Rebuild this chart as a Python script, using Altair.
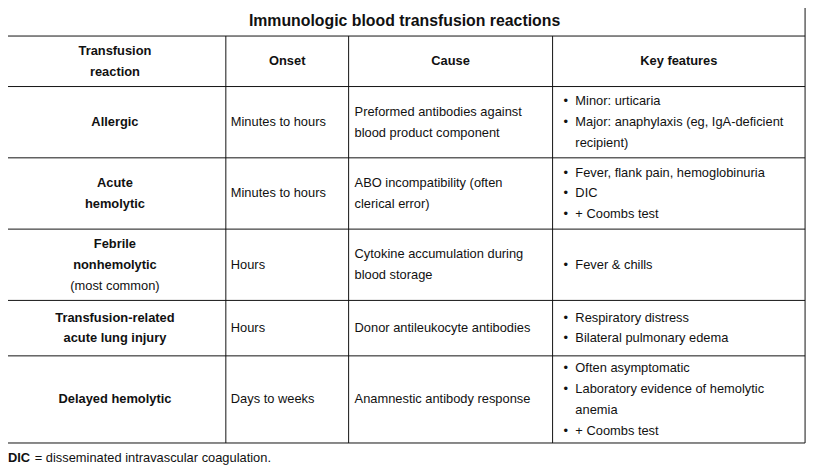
import pandas as pd
import altair as alt

title = "Immunologic blood transfusion reactions"
headers = [["Transfusion", "reaction"], ["Onset"], ["Cause"], ["Key features"]]
reactions = [["Allergic"], ["Acute", "hemolytic"], ["Febrile", "nonhemolytic", "(most common)"],
             ["Transfusion-related", "acute lung injury"], ["Delayed hemolytic"]]
onsets = ["Minutes to hours", "Minutes to hours", "Hours", "Hours", "Days to weeks"]
causes = [["Preformed antibodies against", "blood product component"],
          ["ABO incompatibility (often", "clerical error)"],
          ["Cytokine accumulation during", "blood storage"],
          ["Donor antileukocyte antibodies"],
          ["Anamnestic antibody response"]]
features = [[["Minor: urticaria"], ["Major: anaphylaxis (eg, IgA-deficient", "recipient)"]],
            [["Fever, flank pain, hemoglobinuria"], ["DIC"], ["+ Coombs test"]],
            [["Fever & chills"]],
            [["Respiratory distress"], ["Bilateral pulmonary edema"]],
            [["Often asymptomatic"], ["Laboratory evidence of hemolytic", "anemia"], ["+ Coombs test"]]]
footnote = "disseminated intravascular coagulation."

# layout (pixel grid of the page)
col_x = [4, 228, 352, 558, 813]
row_y = [4, 34, 85, 157, 229, 301, 357, 445]
lh = 21

texts = []

def add(x, y, t, w="normal", a="left"):
    texts.append({"x": x, "y": y, "t": t, "w": w, "a": a})

def block(lines, ymid):
    n = len(lines)
    return [ymid + (i - (n - 1) / 2) * lh for i in range(n)]

add((col_x[0] + col_x[-1]) / 2, (row_y[0] + row_y[1]) / 2, title, "bold", "center")
hmid = (row_y[1] + row_y[2]) / 2
for c, h in enumerate(headers):
    for y, t in zip(block(h, hmid), h):
        add((col_x[c] + col_x[c + 1]) / 2, y, t, "bold", "center")

for r in range(5):
    ymid = (row_y[r + 2] + row_y[r + 3]) / 2
    for y, t in zip(block(reactions[r], ymid), reactions[r]):
        w = "normal" if t.startswith("(") else "bold"
        add((col_x[0] + col_x[1]) / 2, y, t, w, "center")
    add(col_x[1] + 5, ymid, onsets[r])
    for y, t in zip(block(causes[r], ymid), causes[r]):
        add(col_x[2] + 6, y, t)
    flat = [(j, t) for j, item in enumerate(features[r]) for t in item]
    ys = block(flat, ymid)
    seen = set()
    for y, (j, t) in zip(ys, flat):
        if j not in seen:
            seen.add(j)
            add(col_x[3] + 11, y, "•")
        add(col_x[3] + 23, y, t)

add(8, 460, "DIC", "bold")
add(35, 460, "= " + footnote)
tdf = pd.DataFrame(texts)

lines = []
for y in row_y:
    lines.append({"x": col_x[0], "x2": col_x[-1], "y": y, "y2": y})
lines.append({"x": col_x[0], "x2": col_x[0], "y": row_y[0], "y2": row_y[-1]})
lines.append({"x": col_x[-1], "x2": col_x[-1], "y": row_y[0], "y2": row_y[-1]})
for x in col_x[1:-1]:
    lines.append({"x": x, "x2": x, "y": row_y[1], "y2": row_y[-1]})
ldf = pd.DataFrame(lines)

xs = alt.Scale(domain=[8, 820], nice=False, zero=False)
ys_ = alt.Scale(domain=[8, 475], nice=False, zero=False, reverse=True)

rules = alt.Chart(ldf).mark_rule(color="#111", strokeWidth=1).encode(
    x=alt.X("x:Q", scale=xs, axis=None), x2="x2",
    y=alt.Y("y:Q", scale=ys_, axis=None), y2="y2")

base = alt.Chart(tdf).encode(
    x=alt.X("x:Q", scale=xs, axis=None),
    y=alt.Y("y:Q", scale=ys_, axis=None),
    text="t:N")

layers = []
for w in ["normal", "bold"]:
    for a in ["left", "center"]:
        sub = base.transform_filter((alt.datum.w == w) & (alt.datum.a == a) & (alt.datum.t != title))
        layers.append(sub.mark_text(font="Liberation Sans", fontSize=13, fontWeight=w,
                                    align=a, baseline="middle", color="#111"))
title_layer = base.transform_filter(alt.datum.t == title).mark_text(
    font="Liberation Sans", fontSize=16, fontWeight="bold", align="center",
    baseline="middle", color="#111")

chart = alt.layer(rules, *layers, title_layer).properties(
    width=812, height=467, padding=0, autosize="none"
).configure_view(stroke=None)

chart.save("out.html", embed_options={"renderer": "svg", "actions": False})
